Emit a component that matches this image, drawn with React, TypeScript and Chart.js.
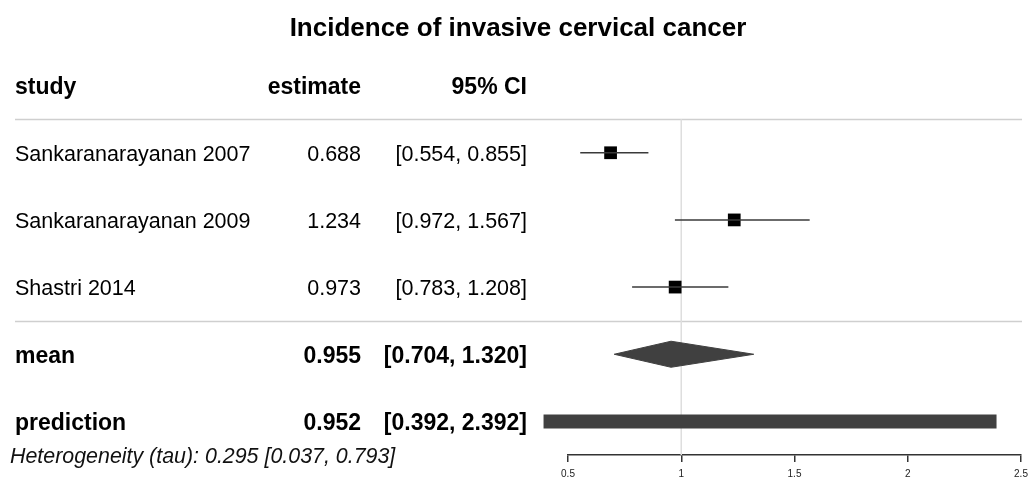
import React, { useEffect, useRef } from "react";
import { Chart, registerables } from "chart.js";

Chart.register(...registerables);

const chartTitle = "Incidence of invasive cervical cancer";
const headers = ["study", "estimate", "95% CI"];
const studies = ["Sankaranarayanan 2007", "Sankaranarayanan 2009", "Shastri 2014"];
const estimates = [0.688, 1.234, 0.973];
const lowerCI = [0.554, 0.972, 0.783];
const upperCI = [0.855, 1.567, 1.208];
const summaryLabels = ["mean", "prediction"];
const summaryEstimates = [0.955, 0.952];
const summaryLower = [0.704, 0.392];
const summaryUpper = [1.32, 2.392];
const tauValues = [0.295, 0.037, 0.793];
const xTicks = [0.5, 1, 1.5, 2, 2.5];
const xTickLabels = ["0.5", "1", "1.5", "2", "2.5"];
const referenceValue = 1;

const FONT = '"Liberation Sans", Arial, Helvetica, sans-serif';
const DIAMOND_HALF = 0.194;

export default function App() {
  const ref = useRef<HTMLCanvasElement | null>(null);

  useEffect(() => {
    const canvas = ref.current;
    if (!canvas) return;

    const fmt = (v: number) => v.toFixed(3);
    const ci = (a: number, b: number) => `[${fmt(a)}, ${fmt(b)}]`;

    const datasets: any[] = [];
    studies.forEach((_, i) => {
      datasets.push({
        type: "line",
        data: [
          { x: lowerCI[i], y: i },
          { x: upperCI[i], y: i },
        ],
        borderColor: "#3a3a3a",
        borderWidth: 1.5,
        pointRadius: 0,
        clip: false,
      });
    });
    datasets.push({
      type: "scatter",
      data: estimates.map((e, i) => ({ x: e, y: i })),
      pointStyle: "rect",
      pointRadius: 9,
      backgroundColor: "#000",
      borderColor: "#000",
      borderWidth: 0,
      clip: false,
    });
    const mi = studies.length;
    datasets.push({
      type: "line",
      data: [
        { x: summaryLower[0], y: mi },
        { x: summaryEstimates[0], y: mi - DIAMOND_HALF },
        { x: summaryUpper[0], y: mi },
        { x: summaryEstimates[0], y: mi + DIAMOND_HALF },
        { x: summaryLower[0], y: mi },
      ],
      borderColor: "#404040",
      borderWidth: 1,
      backgroundColor: "#404040",
      fill: "shape",
      pointRadius: 0,
      tension: 0,
      clip: false,
    });
    datasets.push({
      type: "line",
      data: [
        { x: summaryLower[1], y: mi + 1 },
        { x: summaryUpper[1], y: mi + 1 },
      ],
      borderColor: "#404040",
      borderWidth: 14,
      borderCapStyle: "butt",
      pointRadius: 0,
      clip: false,
    });

    const textPlugin = {
      id: "forestText",
      beforeDatasetsDraw(chart: any) {
        const { ctx, scales } = chart;
        const xs = scales.x;
        const ys = scales.y;
        ctx.save();
        ctx.strokeStyle = "#cfcfcf";
        ctx.lineWidth = 1.5;
        [-0.5, studies.length - 0.5].forEach((r) => {
          const y = Math.round(ys.getPixelForValue(r)) + 0.5;
          ctx.beginPath();
          ctx.moveTo(15, y);
          ctx.lineTo(1022, y);
          ctx.stroke();
        });
        ctx.strokeStyle = "#dedede";
        const xr = xs.getPixelForValue(referenceValue);
        ctx.beginPath();
        ctx.moveTo(xr, ys.getPixelForValue(-0.5));
        ctx.lineTo(xr, ys.getPixelForValue(4.5));
        ctx.stroke();
        ctx.restore();
      },
      afterDraw(chart: any) {
        const { ctx, scales } = chart;
        const ys = scales.y;
        ctx.save();
        ctx.fillStyle = "#000";
        ctx.textBaseline = "middle";
        const colStudy = 15;
        const colEst = 361;
        const colCI = 527;
        const dy = 2;

        ctx.font = `bold 26px ${FONT}`;
        ctx.textAlign = "center";
        ctx.fillText(chartTitle, 518, 29);

        const row = (r: number) => ys.getPixelForValue(r) + dy;
        ctx.font = `bold 23px ${FONT}`;
        ctx.textAlign = "left";
        ctx.fillText(headers[0], colStudy, row(-1));
        ctx.textAlign = "right";
        ctx.fillText(headers[1], colEst, row(-1));
        ctx.fillText(headers[2], colCI, row(-1));

        ctx.font = `21.5px ${FONT}`;
        studies.forEach((s, i) => {
          ctx.textAlign = "left";
          ctx.fillText(s, colStudy, row(i));
          ctx.textAlign = "right";
          ctx.fillText(fmt(estimates[i]), colEst, row(i));
          ctx.fillText(ci(lowerCI[i], upperCI[i]), colCI, row(i));
        });

        ctx.font = `bold 23px ${FONT}`;
        summaryLabels.forEach((s, k) => {
          const r = studies.length + k;
          ctx.textAlign = "left";
          ctx.fillText(s, colStudy, row(r));
          ctx.textAlign = "right";
          ctx.fillText(fmt(summaryEstimates[k]), colEst, row(r));
          ctx.fillText(ci(summaryLower[k], summaryUpper[k]), colCI, row(r));
        });

        ctx.font = `italic 21.4px ${FONT}`;
        ctx.textAlign = "left";
        ctx.fillStyle = "#111";
        ctx.fillText(
          `Heterogeneity (tau): ${fmt(tauValues[0])} ${ci(tauValues[1], tauValues[2])}`,
          10,
          row(4.5)
        );
        ctx.restore();
      },
    };

    const chart = new Chart(canvas, {
      type: "line",
      data: { datasets },
      options: {
        animation: false,
        responsive: false,
        maintainAspectRatio: false,
        layout: { padding: { top: 52, left: 568, right: 9, bottom: 0 } },
        plugins: {
          legend: { display: false },
          title: { display: false },
          tooltip: { enabled: false },
        },
        scales: {
          x: {
            type: "linear",
            min: xTicks[0],
            max: xTicks[xTicks.length - 1],
            afterBuildTicks: (axis: any) => {
              axis.ticks = xTicks.map((v) => ({ value: v }));
            },
            afterFit: (axis: any) => {
              axis.height = 25;
              axis.paddingLeft = 0;
              axis.paddingRight = 0;
            },
            grid: {
              display: true,
              drawOnChartArea: false,
              drawTicks: true,
              tickLength: 7,
              color: "#333",
              lineWidth: 1.5,
            },
            border: { display: true, color: "#333", width: 1.5 },
            ticks: {
              padding: 6,
              color: "#222",
              font: { size: 10, family: FONT },
              maxRotation: 0,
              autoSkip: false,
              callback: (value: any) => {
                const idx = xTicks.indexOf(Number(value));
                return idx >= 0 ? xTickLabels[idx] : String(value);
              },
            },
          },
          y: {
            type: "linear",
            display: false,
            reverse: true,
            min: -1.5,
            max: 4.5,
          },
        },
      },
      plugins: [textPlugin],
    } as any);

    return () => chart.destroy();
  }, []);

  return (
    <div style={{ position: "fixed", left: 0, top: 0, width: 1030, height: 480, background: "#fff" }}>
      <canvas ref={ref} width={1030} height={480} style={{ width: 1030, height: 480 }} />
    </div>
  );
}
